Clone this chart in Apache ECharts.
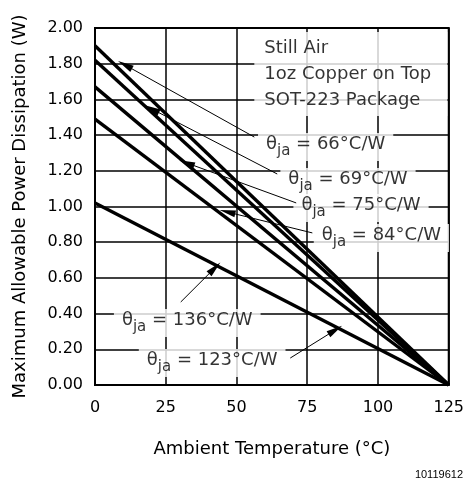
<!DOCTYPE html>
<html><head><meta charset="utf-8">
<script src="https://cdn.jsdelivr.net/npm/echarts@6/dist/echarts.min.js"></script>
<style>html,body{margin:0;padding:0;background:#fff}#c{width:467px;height:483px}</style>
</head><body><div id="c"></div>
<script>
// ---- data ----
const xTicks = [0, 25, 50, 75, 100, 125];
const yTicks = [0, 0.2, 0.4, 0.6, 0.8, 1.0, 1.2, 1.4, 1.6, 1.8, 2.0];
const thetaValues = [66, 69, 75, 84, 123];          // °C/W of each line
const powerAt0 = [1.90, 1.82, 1.67, 1.49, 1.02];    // W at 0 °C
const tempEnd = 125;                                 // all lines reach 0 W at 125 °C
const noteLines = ['Still Air', '1oz Copper on Top', 'SOT-223 Package'];
const noteAt = [56.3, 1.742];
const labelThetas = ['66', '69', '75', '84', '136', '123'];
const labelAt = [[81.5, 1.333], [89.4, 1.137], [94.0, 0.991], [101.2, 0.823], [32.6, 0.347], [41.4, 0.123]];
const arrowTail = [[56.3, 1.389], [64.4, 1.182], [71.1, 1.020], [76.8, 0.852], [30.3, 0.465], [69.0, 0.151]];
const arrowTip  = [[10.6, 1.793], [20.1, 1.546], [32.4, 1.244], [46.8, 0.969], [42.3, 0.655], [84.9, 0.308]];

const FONT = 'DejaVu Sans';
const lineSeries = thetaValues.map((t, i) => ({
  type: 'line', name: 'θja = ' + t + '°C/W',
  data: [[0, powerAt0[i]], [tempEnd, 0]],
  symbol: 'none', silent: true,
  lineStyle: { color: '#000', width: 3.4 }, z: 3
}));

const annotation = {
  type: 'scatter', symbolSize: 0, silent: true, z: 4,
  data: labelAt.map((p, i) => ({ value: p, name: labelThetas[i] })).concat([
    { value: noteAt, name: 'note', label: {
        position: 'right', distance: 0, formatter: noteLines.join('\n'),
        fontSize: 18, lineHeight: 26, padding: [3, 10, 3, 10], width: 173, align: 'left'
      } }
  ]),
  label: {
    show: true, position: 'inside', color: '#000', fontFamily: FONT,
    backgroundColor: '#fff', padding: [2, 8, 2, 8],
    formatter: p => '{t|θ}{s|ja}{t| = ' + p.name + '°C/W}',
    rich: {
      t: { fontSize: 18, fontFamily: FONT, color: '#000', lineHeight: 24, verticalAlign: 'top' },
      s: { fontSize: 15, fontFamily: FONT, color: '#000', lineHeight: 24, verticalAlign: 'bottom' }
    }
  },
  markLine: {
    silent: true, symbol: ['none', 'triangle'], symbolSize: [7, 16],
    label: { show: false },
    lineStyle: { color: '#000', width: 1, type: 'solid' },
    data: arrowTail.map((t, i) => [{ coord: t }, { coord: arrowTip[i] }])
  }
};

const chart = echarts.init(document.getElementById('c'), null, { renderer: 'canvas' });
chart.setOption({
  animation: false,
  backgroundColor: '#fff',
  grid: { left: 95, right: 17, top: 28, bottom: 98, show: true, borderColor: '#000', borderWidth: 2 },
  xAxis: {
    type: 'value', min: xTicks[0], max: xTicks[xTicks.length - 1], interval: 25,
    axisLine: { lineStyle: { color: '#000', width: 2 } }, axisTick: { show: false },
    axisLabel: { fontSize: 16, color: '#000', margin: 15, fontFamily: FONT },
    splitLine: { lineStyle: { color: '#000', width: 1.5 } },
    name: 'Ambient Temperature (°C)', nameLocation: 'middle', nameGap: 55,
    nameTextStyle: { fontSize: 18, color: '#000', fontFamily: FONT }
  },
  yAxis: {
    type: 'value', min: yTicks[0], max: yTicks[yTicks.length - 1], interval: 0.2,
    axisLine: { show: true, lineStyle: { color: '#000', width: 2 } }, axisTick: { show: false },
    axisLabel: { fontSize: 16, color: '#000', margin: 12, fontFamily: FONT, formatter: v => v.toFixed(2) },
    splitLine: { lineStyle: { color: '#000', width: 1.5 } },
    name: 'Maximum Allowable Power Dissipation (W)', nameLocation: 'middle', nameGap: 66,
    nameTextStyle: { fontSize: 18, color: '#000', fontFamily: FONT }
  },
  graphic: [{
    type: 'text', right: 4, bottom: 3,
    style: { text: '10119612', fontSize: 11, fontFamily: 'Liberation Sans', fill: '#000' }
  }],
  series: lineSeries.concat([annotation])
});
</script></body></html>
